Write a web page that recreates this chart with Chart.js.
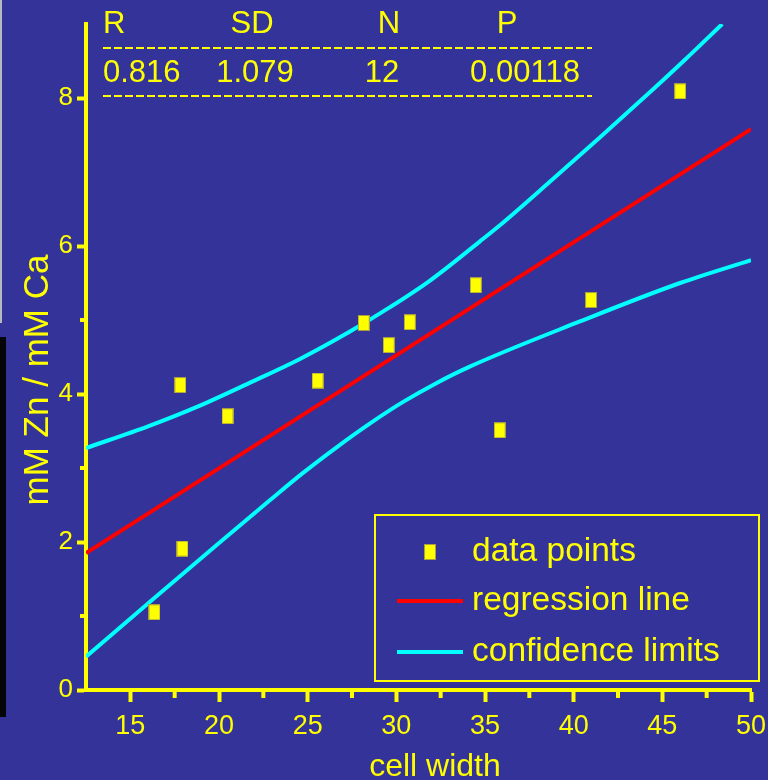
<!DOCTYPE html>
<html>
<head>
<meta charset="utf-8">
<script src="https://cdn.jsdelivr.net/npm/chart.js@4.4.1/dist/chart.umd.min.js"></script>
<style>
  html, body { margin: 0; padding: 0; background: #333399; }
  #wrap { width: 768px; height: 780px; }
</style>
</head>
<body>
<div id="wrap"><canvas id="zn-chart" width="768" height="780"></canvas></div>
<script>
// Measured points: cell width vs mM Zn / mM Ca
const cellWidth = [16.36, 17.94, 17.82, 20.48, 25.56, 28.16, 29.57, 30.76, 34.48, 35.83, 40.98, 46.01];
const znCa = [1.05, 1.91, 4.12, 3.70, 4.18, 4.96, 4.66, 4.97, 5.47, 3.51, 5.27, 8.09];

// Regression line end points
const regX = [12.5, 50];
const regY = [1.85, 7.58];

// Confidence limits
const upperX = [12.5, 16.07, 18.89, 21.72, 24.54, 27.36, 29.62, 31.88, 34.7, 35.84, 38.67, 41.49, 44.31, 46.29, 48.38];
const upperY = [3.27, 3.57, 3.84, 4.15, 4.47, 4.84, 5.17, 5.53, 6.06, 6.28, 6.87, 7.47, 8.08, 8.52, 9.0];
const lowerX = [12.5, 16.19, 19.92, 22.85, 24.72, 26.63, 28.5, 30.36, 32.28, 34.14, 40.35, 46.0, 50];
const lowerY = [0.45, 1.21, 1.97, 2.56, 2.93, 3.28, 3.60, 3.89, 4.15, 4.37, 4.98, 5.50, 5.81];

// Axis ticks
const xTicks = [15, 20, 25, 30, 35, 40, 45, 50];
const xMinorTicks = [17.5, 22.5, 27.5, 32.5, 37.5, 42.5, 47.5];
const yTicks = [0, 2, 4, 6, 8];
const yMinorTicks = [1, 3, 5];

// Statistics table
const statHeaders = ["R", "SD", "N", "P"];
const statValues = ["0.816", "1.079", "12", "0.00118"];

const YELLOW = "#ffff00";
const BG = "#333399";
const FONT = "'Liberation Sans', Arial, sans-serif";

const toXY = (xs, ys) => xs.map((x, i) => ({ x, y: ys[i] }));

// Yellow rectangular marker used for the points
const marker = document.createElement("canvas");
marker.width = 12;
marker.height = 16;
{
  const m = marker.getContext("2d");
  m.fillStyle = "#a8a040";
  m.fillRect(0, 0, 12, 16);
  m.fillStyle = YELLOW;
  m.fillRect(1, 1, 10, 14);
}

const backgroundPlugin = {
  id: "background",
  beforeDraw(chart) {
    const { ctx, width, height } = chart;
    ctx.save();
    ctx.fillStyle = BG;
    ctx.fillRect(0, 0, width, height);
    // scan edge on the left
    ctx.fillStyle = "#b8b8c0";
    ctx.fillRect(0, 0, 2, 323);
    ctx.fillStyle = "#050505";
    ctx.fillRect(0, 337, 6, 380);
    ctx.restore();
  },
};

const overlayPlugin = {
  id: "overlay",
  afterDraw(chart) {
    const { ctx, scales } = chart;
    const xs = scales.x, ys = scales.y;
    const area = chart.chartArea;
    ctx.save();

    // minor ticks
    ctx.strokeStyle = YELLOW;
    ctx.lineWidth = 4;
    ctx.beginPath();
    xMinorTicks.forEach((v) => {
      const px = xs.getPixelForValue(v);
      ctx.moveTo(px, area.bottom);
      ctx.lineTo(px, area.bottom + 8);
    });
    yMinorTicks.forEach((v) => {
      const py = ys.getPixelForValue(v);
      ctx.moveTo(area.left, py);
      ctx.lineTo(area.left - 6, py);
    });
    ctx.stroke();

    // statistics table
    ctx.fillStyle = YELLOW;
    ctx.font = `31px ${FONT}`;
    ctx.textBaseline = "alphabetic";
    const headPos = [[103, "left"], [252, "center"], [389, "center"], [507, "center"]];
    const valPos = [[103, "left"], [255, "center"], [382, "center"], [525, "center"]];
    statHeaders.forEach((t, i) => {
      ctx.textAlign = headPos[i][1];
      ctx.fillText(t, headPos[i][0], 33);
    });
    statValues.forEach((t, i) => {
      ctx.textAlign = valPos[i][1];
      ctx.fillText(t, valPos[i][0], 82);
    });
    ctx.lineWidth = 2;
    ctx.setLineDash([8, 3]);
    ctx.beginPath();
    ctx.moveTo(103, 48); ctx.lineTo(592, 48);
    ctx.moveTo(103, 96); ctx.lineTo(592, 96);
    ctx.stroke();
    ctx.setLineDash([]);

    // axis titles
    ctx.font = `32px ${FONT}`;
    ctx.textAlign = "center";
    ctx.fillText("cell width", 435, 776);
    ctx.save();
    ctx.translate(38, 380);
    ctx.rotate(-Math.PI / 2);
    ctx.font = `35px ${FONT}`;
    ctx.textBaseline = "middle";
    ctx.fillText("mM Zn / mM Ca", 0, 0);
    ctx.restore();

    // legend box
    ctx.lineWidth = 2;
    ctx.strokeRect(375, 515, 384, 166);
    const ds = chart.data.datasets;
    const rows = [ds[0], ds[1], ds[2]];
    const rowY = [552, 601, 652];
    ctx.font = `33.5px ${FONT}`;
    ctx.textAlign = "left";
    ctx.textBaseline = "middle";
    rows.forEach((d, i) => {
      const y = rowY[i];
      if (i === 0) {
        ctx.drawImage(marker, 424, y - 8);
      } else {
        ctx.strokeStyle = d.borderColor;
        ctx.lineWidth = 4;
        ctx.beginPath();
        ctx.moveTo(397, y);
        ctx.lineTo(463, y);
        ctx.stroke();
      }
      ctx.fillStyle = YELLOW;
      ctx.fillText(d.label, 472, y);
    });
    ctx.restore();
  },
};

new Chart(document.getElementById("zn-chart"), {
  type: "scatter",
  data: {
    datasets: [
      {
        label: "data points",
        data: toXY(cellWidth, znCa),
        pointStyle: marker,
        pointRadius: 8,
        showLine: false,
        order: 0,
      },
      {
        label: "regression line",
        data: toXY(regX, regY),
        showLine: true,
        borderColor: "#ff0000",
        borderWidth: 4,
        pointRadius: 0,
        order: 1,
      },
      {
        label: "confidence limits",
        data: toXY(upperX, upperY),
        showLine: true,
        borderColor: "#00ffff",
        borderWidth: 4,
        pointRadius: 0,
        cubicInterpolationMode: "monotone",
        order: 1,
      },
      {
        label: "confidence limits",
        data: toXY(lowerX, lowerY),
        showLine: true,
        borderColor: "#00ffff",
        borderWidth: 4,
        pointRadius: 0,
        cubicInterpolationMode: "monotone",
        order: 1,
      },
    ],
  },
  options: {
    responsive: false,
    animation: false,
    layout: { padding: { top: 24, right: 17, left: 0, bottom: 0 } },
    plugins: {
      legend: { display: false },
      tooltip: { enabled: false },
    },
    scales: {
      x: {
        type: "linear",
        min: 12.5,
        max: 50,
        afterBuildTicks: (s) => { s.ticks = xTicks.map((v) => ({ value: v })); },
        afterFit: (s) => {
          s.height = 90;
          // let the "50" label hang into the right margin
          s.paddingLeft = 0;
          s.paddingRight = 0;
        },
        border: { color: YELLOW, width: 4 },
        grid: { drawOnChartArea: false, tickLength: 12, tickWidth: 4, tickColor: YELLOW },
        ticks: { color: YELLOW, font: { family: FONT, size: 27 }, padding: 8, maxRotation: 0, autoSkip: false },
      },
      y: {
        type: "linear",
        min: 0,
        max: 9,
        afterBuildTicks: (s) => { s.ticks = yTicks.map((v) => ({ value: v })); },
        afterFit: (s) => {
          s.width = 86;
          s.paddingTop = 0;
          s.paddingBottom = 0;
        },
        border: { color: YELLOW, width: 4 },
        grid: { drawOnChartArea: false, tickLength: 9, tickWidth: 4, tickColor: YELLOW },
        ticks: { color: YELLOW, font: { family: FONT, size: 26 }, padding: 4 },
      },
    },
  },
  plugins: [backgroundPlugin, overlayPlugin],
});
</script>
</body>
</html>
